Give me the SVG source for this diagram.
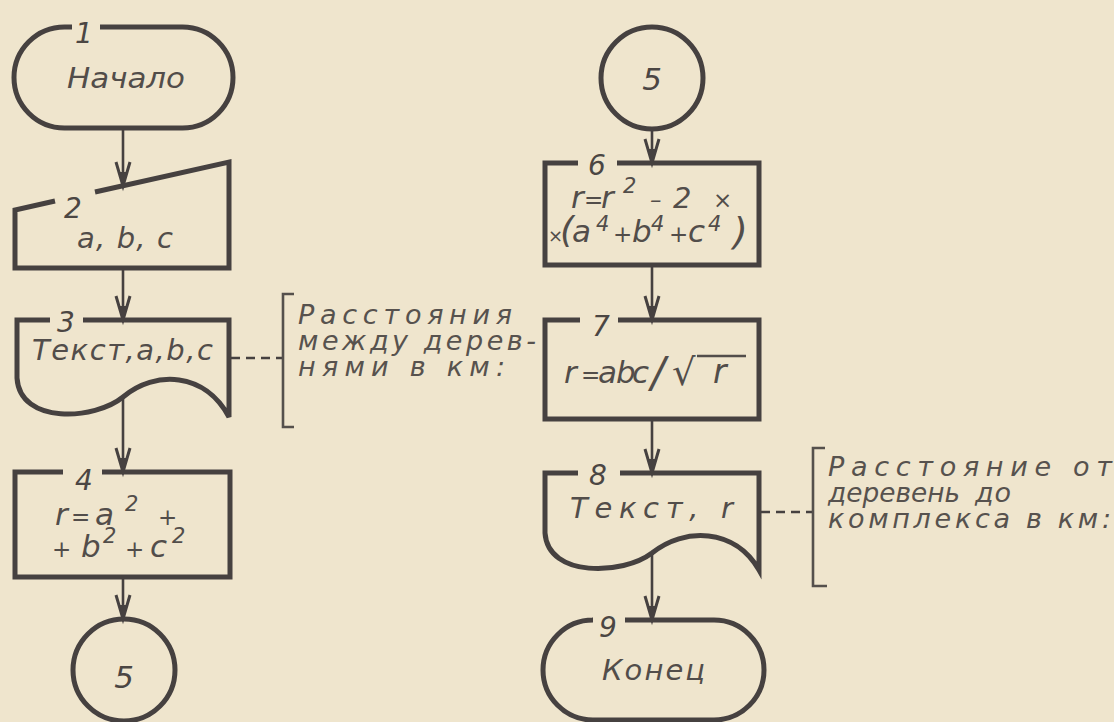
<svg xmlns="http://www.w3.org/2000/svg" width="1114" height="722" viewBox="0 0 1114 722">
  <style>
    .shape { fill: none; stroke: #464140; stroke-width: 5; stroke-linejoin: miter; stroke-linecap: butt; }
    .flow { fill: none; stroke: #464140; stroke-width: 2.6; }
    .dash { fill: none; stroke: #464140; stroke-width: 2.6; stroke-dasharray: 9 6; }
    .brk { fill: none; stroke: #55504c; stroke-width: 2.6; }
    .t { font-family: "DejaVu Sans", "Liberation Sans", sans-serif; font-style: oblique; font-size: 29px; fill: #524d4a; }
    .f { font-size: 31px; }
    .num { font-family: "DejaVu Sans", "Liberation Sans", sans-serif; font-style: oblique; font-size: 28px; fill: #4b4643; text-anchor: middle; }
    .sup { font-size: 21px; }
    .op { font-size: 23px; }
    .note { font-family: "DejaVu Sans", "Liberation Sans", sans-serif; font-style: oblique; font-size: 27px; fill: #57524e; }
  </style>
  <defs>
    <marker id="arrow" markerUnits="userSpaceOnUse" markerWidth="30" markerHeight="20" refX="0" refY="0" viewBox="-26 -10 30 20" orient="auto" overflow="visible">
      <path d="M-24,-7 L0,0 L-24,7" fill="none" stroke="#464140" stroke-width="3"/>
      <path d="M0,0 L-14,-3.5 L-14,3.5 Z" fill="#464140"/>
    </marker>
  </defs>

  <rect width="1114" height="722" fill="#efe5cd"/>

  <!-- connectors -->
  <g id="connectors">
    <line class="flow" x1="123" y1="128" x2="123" y2="186" marker-end="url(#arrow)"/>
    <line class="flow" x1="123" y1="268" x2="123" y2="320" marker-end="url(#arrow)"/>
    <line class="flow" x1="123" y1="397" x2="123" y2="472" marker-end="url(#arrow)"/>
    <line class="flow" x1="123" y1="577" x2="123" y2="619" marker-end="url(#arrow)"/>
    <line class="flow" x1="652" y1="129" x2="652" y2="163" marker-end="url(#arrow)"/>
    <line class="flow" x1="652" y1="265" x2="652" y2="320" marker-end="url(#arrow)"/>
    <line class="flow" x1="652" y1="419" x2="652" y2="473" marker-end="url(#arrow)"/>
    <line class="flow" x1="652" y1="553" x2="652" y2="620" marker-end="url(#arrow)"/>
    <line class="dash" x1="231" y1="358" x2="283" y2="358"/>
    <line class="dash" x1="761" y1="512" x2="813" y2="512"/>
  </g>

  <!-- 1: start terminator -->
  <g id="n1">
    <path class="shape" d="M72,27 H64.5 A50.5,50.5 0 0 0 64.5,128 H182.5 A50.5,50.5 0 0 0 182.5,27 H100"/>
    <text class="num" x="84" y="43">1</text>
    <text class="t" x="67" y="88" textLength="118" lengthAdjust="spacingAndGlyphs">Начало</text>
  </g>

  <!-- 2: manual input -->
  <g id="n2">
    <path class="shape" d="M55,201 L15,210 V268 H229 V162 L95,192"/>
    <text class="num" x="73" y="218">2</text>
    <text class="t" x="77" y="248" textLength="96" lengthAdjust="spacing">a, b, c</text>
  </g>

  <!-- 3: document output -->
  <g id="n3">
    <path class="shape" d="M50,320 H17 V378 C20,425 95,420 123,397 C155,370 205,372 229,417 V320 H83"/>
    <text class="num" x="66" y="332">3</text>
    <text class="t" x="32" y="360" textLength="181" lengthAdjust="spacing">Текст,a,b,c</text>
  </g>

  <!-- comment for 3 -->
  <g id="c3">
    <path class="brk" d="M294,294 H283 V427 H294"/>
    <text class="note" x="298" y="324" textLength="214" lengthAdjust="spacing">Расстояния</text>
    <text class="note" x="298" y="350" textLength="238" lengthAdjust="spacing">между дерев-</text>
    <text class="note" x="298" y="376" textLength="207" lengthAdjust="spacing">нями в км:</text>
  </g>

  <!-- 4: process -->
  <g id="n4">
    <path class="shape" d="M63,472 H15 V577 H230 V472 H102"/>
    <text class="num" x="84" y="490">4</text>
    <text class="t f" x="55" y="525">r</text>
    <text class="t op" x="71" y="525">=</text>
    <text class="t f" x="95" y="525">a</text>
    <text class="t sup" x="125" y="511">2</text>
    <text class="t op" x="158" y="525">+</text>
    <text class="t op" x="52" y="557">+</text>
    <text class="t f" x="81" y="557">b</text>
    <text class="t sup" x="103" y="543">2</text>
    <text class="t op" x="125" y="557">+</text>
    <text class="t f" x="150" y="557">c</text>
    <text class="t sup" x="172" y="543">2</text>
  </g>

  <!-- 5: off-page connector (left) -->
  <g id="n5a">
    <circle class="shape" cx="124" cy="670" r="51"/>
    <text class="num" x="124" y="688" style="font-size:31px">5</text>
  </g>

  <!-- 5: off-page connector (right) -->
  <g id="n5b">
    <circle class="shape" cx="652" cy="78" r="51"/>
    <text class="num" x="652" y="90" style="font-size:31px">5</text>
  </g>

  <!-- 6: process -->
  <g id="n6">
    <path class="shape" d="M578,163 H545 V265 H759 V163 H617"/>
    <text class="num" x="597" y="175">6</text>
    <text class="t f" x="571" y="208">r</text>
    <text class="t op" x="584" y="208">=</text>
    <text class="t f" x="601" y="208">r</text>
    <text class="t sup" x="623" y="193">2</text>
    <text class="t op" x="650" y="208">–</text>
    <text class="t" x="673" y="208">2</text>
    <text class="t op" x="713" y="208">×</text>
    <text class="t" x="548" y="242" style="font-size:18px">×</text>
    <text class="t" x="560" y="242" style="font-size:36px">(</text>
    <text class="t f" x="572" y="242">a</text>
    <text class="t sup" x="596" y="231">4</text>
    <text class="t op" x="613" y="242">+</text>
    <text class="t f" x="632" y="242">b</text>
    <text class="t sup" x="651" y="231">4</text>
    <text class="t op" x="669" y="242">+</text>
    <text class="t f" x="688" y="242">c</text>
    <text class="t sup" x="708" y="231">4</text>
    <text class="t" x="733" y="244" style="font-size:38px">)</text>
  </g>

  <!-- 7: process -->
  <g id="n7">
    <path class="shape" d="M580,320 H545 V419 H759 V320 H618"/>
    <text class="num" x="601" y="336">7</text>
    <text class="t f" x="564" y="383">r</text>
    <text class="t op" x="581" y="383">=</text>
    <text class="t f" x="598 616 632" y="383">abc</text>
    <text class="t" x="651" y="387" style="font-size:42px">/</text>
    <text class="t" x="672" y="385" style="font-size:37px">√</text>
    <text class="t" x="713" y="383" style="font-size:33px">r</text>
    <line x1="697" y1="356" x2="746" y2="356" stroke="#524d4a" stroke-width="2.6"/>
  </g>

  <!-- 8: document output -->
  <g id="n8">
    <path class="shape" d="M578,473 H545 V533 C548,578 623,575 652,553 C684,527 735,528 759,570 V473 H620"/>
    <text class="num" x="598" y="485">8</text>
    <text class="t" x="570" y="518" textLength="163" lengthAdjust="spacing">Текст, r</text>
  </g>

  <!-- comment for 8 -->
  <g id="c8">
    <path class="brk" d="M825,448 H813 V586 H827"/>
    <text class="note" x="828" y="476" textLength="284" lengthAdjust="spacing">Расстояние от</text>
    <text class="note" x="828" y="502" textLength="132" lengthAdjust="spacingAndGlyphs">деревень</text>
    <text class="note" x="975" y="502" textLength="36" lengthAdjust="spacing">до</text>
    <text class="note" x="828" y="528" textLength="283" lengthAdjust="spacing">комплекса в км:</text>
  </g>

  <!-- 9: end terminator -->
  <g id="n9">
    <path class="shape" d="M592,620 H593 A50,50 0 0 0 593,720 H714 A50,50 0 0 0 714,620 H625"/>
    <text class="num" x="608" y="637">9</text>
    <text class="t" x="602" y="680" textLength="103" lengthAdjust="spacing">Конец</text>
  </g>
</svg>
